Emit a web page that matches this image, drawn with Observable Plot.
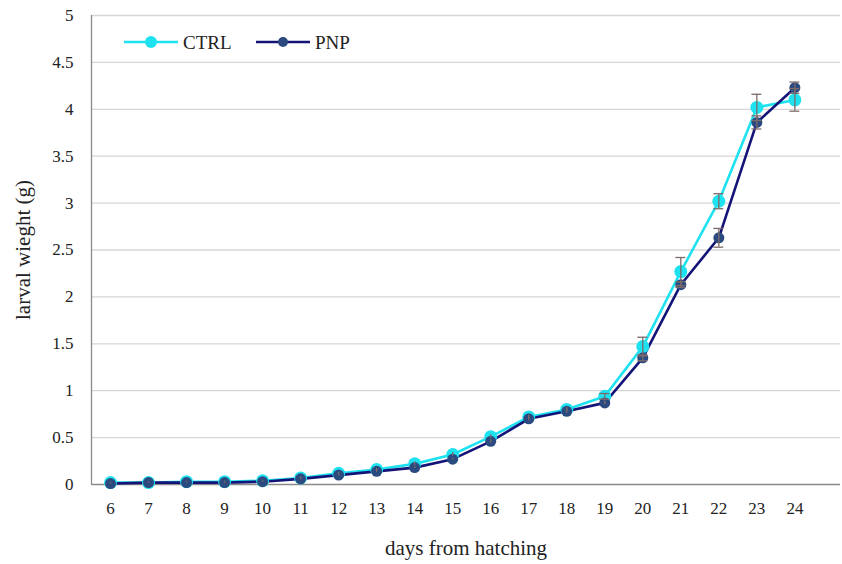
<!DOCTYPE html>
<html>
<head>
<meta charset="utf-8">
<script src="https://cdn.jsdelivr.net/npm/d3@7"></script>
<script src="https://cdn.jsdelivr.net/npm/@observablehq/plot@0.6"></script>
<style>
  body { margin: 0; background: #fff; }
  #wrap { position: relative; width: 842px; height: 564px; }
  #chart svg, #chart svg text { font-family: "Liberation Serif", serif !important; }
  .leg { position: absolute; font-family: "Liberation Serif", serif; font-size: 19px; color: #222; line-height: 1; }
</style>
</head>
<body>
<div id="wrap">
  <div id="chart"></div>
</div>
<script>
const days = [6,7,8,9,10,11,12,13,14,15,16,17,18,19,20,21,22,23,24];
const ctrl = [0.02,0.02,0.03,0.03,0.04,0.07,0.12,0.16,0.22,0.32,0.51,0.72,0.80,0.94,1.47,2.27,3.02,4.02,4.10];
const ctrlErr = [0.005,0.005,0.005,0.005,0.005,0.01,0.01,0.01,0.02,0.02,0.02,0.02,0.02,0.03,0.10,0.15,0.08,0.14,0.12];
const pnp = [0.01,0.02,0.02,0.02,0.03,0.06,0.10,0.14,0.18,0.27,0.46,0.70,0.78,0.87,1.35,2.13,2.63,3.86,4.23];
const pnpErr = [0.005,0.005,0.005,0.005,0.005,0.01,0.01,0.01,0.01,0.01,0.02,0.02,0.02,0.02,0.03,0.03,0.10,0.07,0.06];
const yTicks = [0,0.5,1,1.5,2,2.5,3,3.5,4,4.5,5];
const seriesNames = ["CTRL","PNP"];
const lineColors = {CTRL: "#1fe2f0", PNP: "#141478"};
const dotColors = {CTRL: "#1fe2f0", PNP: "#2b4a80"};
const errColor = "#7d6a6a";

const rows = [];
days.forEach((d,i) => {
  rows.push({day: d, series: "CTRL", v: ctrl[i], e: ctrlErr[i]});
  rows.push({day: d, series: "PNP", v: pnp[i], e: pnpErr[i]});
});
const capHalf = 0.13;
const serif = "Liberation Serif, serif";

const chart = Plot.plot({
  width: 842,
  height: 564,
  marginLeft: 91,
  marginRight: 2,
  marginTop: 15,
  marginBottom: 80,
  style: {fontFamily: serif, fontSize: "17px", color: "#222", background: "#fff"},
  x: {type: "linear", domain: [5.5, 25.2]},
  y: {domain: [0, 5]},
  marks: [
    Plot.gridY(yTicks.filter(t => t > 0), {stroke: "#d6d6d6", strokeOpacity: 1, strokeWidth: 1.3}),
    Plot.ruleX([5.5], {stroke: "#8a8a8a", strokeWidth: 1.3}),
    Plot.ruleY([0], {stroke: "#8a8a8a", strokeWidth: 1.3}),
    Plot.axisY({ticks: yTicks, tickSize: 0, tickPadding: 18, tickFormat: d => String(d), label: "larval wieght (g)", labelAnchor: "center", labelOffset: 76, labelArrow: "none", fontSize: 17, fontFamily: serif}),
    Plot.axisX({ticks: days, tickSize: 0, tickPadding: 17, tickFormat: d => String(d), label: "days from hatching", labelAnchor: "center", labelOffset: 70, labelArrow: "none", fontSize: 17, fontFamily: serif}),
    Plot.line(rows, {x: "day", y: "v", z: "series", stroke: d => lineColors[d.series], strokeWidth: 2.6}),
    Plot.dot(rows.filter(r => r.series === "CTRL"), {x: "day", y: "v", r: 6.5, fill: dotColors.CTRL}),
    Plot.dot(rows.filter(r => r.series === "PNP"), {x: "day", y: "v", r: 5.5, fill: dotColors.PNP}),
    Plot.ruleX(rows, {x: "day", y1: d => d.v - d.e, y2: d => d.v + d.e, stroke: errColor, strokeWidth: 1.3}),
    Plot.ruleY(rows.filter(r => r.e >= 0.03), {y: d => d.v + d.e, x1: d => d.day - capHalf, x2: d => d.day + capHalf, stroke: errColor, strokeWidth: 1.3}),
    Plot.ruleY(rows.filter(r => r.e >= 0.03), {y: d => d.v - d.e, x1: d => d.day - capHalf, x2: d => d.day + capHalf, stroke: errColor, strokeWidth: 1.3})
  ]
});
document.getElementById("chart").appendChild(chart);
chart.querySelectorAll('[aria-label="x-axis label"] text, [aria-label="y-axis label"] text').forEach(t => t.setAttribute("font-size", "21"));

// legend (inside plot area, top-left)
const wrap = document.getElementById("wrap");
const legPos = {CTRL: 124, PNP: 256};
seriesNames.forEach(name => {
  const x0 = legPos[name];
  const r = name === "CTRL" ? 6 : 5;
  const s = document.createElementNS("http://www.w3.org/2000/svg", "svg");
  s.setAttribute("width", 56); s.setAttribute("height", 16);
  s.style.position = "absolute"; s.style.left = x0 + "px"; s.style.top = "34px";
  s.innerHTML = `<line x1="0" y1="8" x2="54" y2="8" stroke="${lineColors[name]}" stroke-width="2.6"/><circle cx="27" cy="8" r="${r}" fill="${dotColors[name]}"/>`;
  wrap.appendChild(s);
  const t = document.createElement("div");
  t.className = "leg";
  t.textContent = name;
  t.style.left = (x0 + 59) + "px";
  t.style.top = "33px";
  wrap.appendChild(t);
});
</script>
</body>
</html>
